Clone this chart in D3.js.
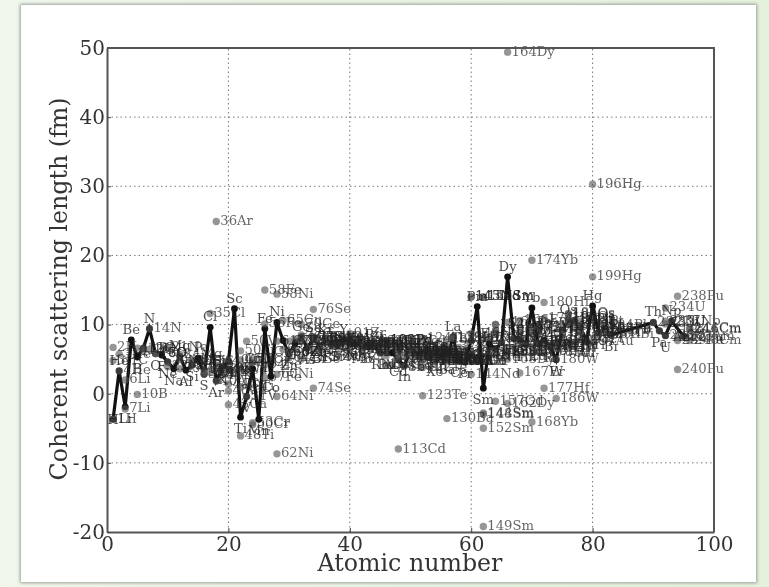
<!DOCTYPE html>
<html lang="en">
<head>
    <meta charset="UTF-8">
    <title>Coherent scattering length</title>
    <script src="https://d3js.org/d3.v7.min.js"></script>
    <style>
        html, body {
            margin: 0;
            padding: 0;
            overflow: hidden;
        }
        body {
            width: 769px;
            height: 587px;
            background: linear-gradient(to right, #f0f7ec, #e4f1dc);
            position: relative;
        }
        .card {
            position: absolute;
            left: 21px;
            top: 5px;
            width: 735px;
            height: 577px;
            background: #fff;
            box-shadow: 0 0 3px 1px #9a9e96;
        }
        svg {
            position: absolute;
            left: 0;
            top: 0;
            filter: blur(0.65px);
        }
        text {
            font-family: "DejaVu Serif", serif;
        }
    </style>
</head>
<body>
    <div class="card"></div>
    <div id="chart"></div>
    <script>
        // natural elements, the black line
        const elementNames = ["H","He","Li","Be","B","C","N","O","F","Ne","Na","Mg","Al","Si","P","S","Cl","Ar","K","Ca",
            "Sc","Ti","V","Cr","Mn","Fe","Co","Ni","Cu","Zn","Ga","Ge","As","Se","Br","Kr","Rb","Sr","Y","Zr",
            "Nb","Mo","Tc","Ru","Rh","Pd","Ag","Cd","In","Sn","Sb","Te","I","Xe","Cs","Ba","La","Ce","Pr","Nd",
            "Pm","Sm","Eu","Gd","Tb","Dy","Ho","Er","Tm","Yb","Lu","Hf","Ta","W","Re","Os","Ir","Pt","Au","Hg",
            "Tl","Pb","Bi","Th","Pa","U","Np","Am"];
        const elementNumbers = [1,2,3,4,5,6,7,8,9,10,11,12,13,14,15,16,17,18,19,20,
            21,22,23,24,25,26,27,28,29,30,31,32,33,34,35,36,37,38,39,40,
            41,42,43,44,45,46,47,48,49,50,51,52,53,54,55,56,57,58,59,60,
            61,62,63,64,65,66,67,68,69,70,71,72,73,74,75,76,77,78,79,80,
            81,82,83,90,91,92,93,95];
        const elementValues = [-3.7,3.3,-1.9,7.8,5.3,6.6,9.4,5.8,5.6,4.6,3.6,5.4,3.4,4.1,5.1,2.8,9.6,1.9,3.7,4.7,
            12.3,-3.4,-0.4,3.6,-3.7,9.4,2.5,10.3,7.7,5.7,7.3,8.2,6.6,8.0,6.8,7.8,7.1,7.0,7.8,7.2,
            7.1,6.7,6.8,7.0,5.9,5.9,5.9,4.9,4.1,6.2,5.6,5.8,5.3,4.9,5.4,5.1,8.2,4.8,4.6,7.7,
            12.6,0.8,7.2,6.5,7.4,16.9,8.0,7.8,7.1,12.4,7.2,7.7,6.9,4.9,9.2,10.7,10.6,9.6,7.6,12.7,
            8.8,9.4,8.5,10.3,9.1,8.4,10.5,8.3];

        // single isotopes, the grey points
        const isotopeNames = ["1H","2H","3H","3He","4He","6Li","7Li","10B","11B","12C","13C","14N","15N","16O","17O","18O",
            "20Ne","21Ne","22Ne","24Mg","25Mg","26Mg","28Si","29Si","30Si","32S","33S","34S","36S","35Cl","37Cl",
            "36Ar","38Ar","40Ar","39K","40K","41K","40Ca","42Ca","43Ca","44Ca","46Ca","48Ca",
            "46Ti","47Ti","48Ti","49Ti","50Ti","50V","51V","50Cr","52Cr","53Cr","54Cr",
            "54Fe","56Fe","57Fe","58Fe","58Ni","60Ni","61Ni","62Ni","64Ni","63Cu","65Cu",
            "64Zn","66Zn","67Zn","68Zn","70Zn","69Ga","71Ga","70Ge","72Ge","73Ge","74Ge","76Ge","75As",
            "74Se","76Se","77Se","78Se","80Se","82Se","79Br","81Br",
            "78Kr","80Kr","82Kr","83Kr","84Kr","86Kr","85Rb","87Rb",
            "84Sr","86Sr","87Sr","88Sr","89Y","90Zr","91Zr","92Zr","94Zr","96Zr","93Nb",
            "92Mo","94Mo","95Mo","96Mo","97Mo","98Mo","100Mo","99Tc","96Ru","99Ru","100Ru","102Ru","104Ru","103Rh",
            "102Pd","104Pd","105Pd","106Pd","108Pd","110Pd","107Ag","109Ag",
            "106Cd","108Cd","110Cd","111Cd","112Cd","113Cd","114Cd","116Cd","113In","115In",
            "112Sn","114Sn","115Sn","116Sn","117Sn","118Sn","119Sn","120Sn","122Sn","124Sn","121Sb","123Sb",
            "120Te","122Te","123Te","124Te","125Te","126Te","128Te","130Te","127I",
            "124Xe","126Xe","128Xe","129Xe","130Xe","131Xe","132Xe","134Xe","136Xe","133Cs",
            "130Ba","132Ba","134Ba","135Ba","136Ba","137Ba","138Ba","138La","139La",
            "136Ce","138Ce","140Ce","142Ce","141Pr","142Nd","143Nd","144Nd","145Nd","146Nd","148Nd","150Nd",
            "144Sm","147Sm","148Sm","149Sm","150Sm","152Sm","154Sm","151Eu","153Eu",
            "152Gd","154Gd","155Gd","156Gd","157Gd","158Gd","160Gd","159Tb",
            "156Dy","158Dy","160Dy","161Dy","162Dy","163Dy","164Dy","165Ho",
            "162Er","164Er","166Er","167Er","168Er","170Er","169Tm",
            "168Yb","170Yb","171Yb","172Yb","173Yb","174Yb","176Yb","175Lu","176Lu",
            "174Hf","176Hf","177Hf","178Hf","179Hf","180Hf","180Ta","181Ta",
            "180W","182W","183W","184W","186W","185Re","187Re",
            "184Os","186Os","187Os","188Os","189Os","190Os","192Os","191Ir","193Ir",
            "190Pt","192Pt","194Pt","195Pt","196Pt","198Pt","197Au","196Hg","199Hg",
            "203Tl","205Tl","204Pb","206Pb","207Pb","208Pb","209Bi",
            "232Th","231Pa","233U","234U","235U","238U","237Np","238Pu","239Pu","240Pu","242Pu","243Am","244Cm","246Cm","248Cm"];
        const isotopeValues = [-3.7,6.7,4.8,5.7,3.3,2.0,-2.2,-0.1,6.6,6.6,6.2,9.4,6.4,5.8,5.8,5.8,
            4.6,6.7,3.9,5.7,3.6,4.9,4.1,4.7,4.6,2.8,4.7,3.5,3.0,11.6,3.1,
            24.9,3.5,1.8,3.7,3.1,2.7,4.8,3.4,-1.6,1.4,3.6,0.4,
            4.9,3.6,-6.1,1.0,6.2,7.6,-0.4,-4.5,4.9,-4.2,4.5,
            4.2,10.1,2.3,15.0,14.4,2.8,7.6,-8.7,-0.4,6.4,10.6,
            5.2,6.0,7.6,6.0,6.0,7.9,6.4,10.0,8.5,5.0,7.6,8.2,6.6,
            0.8,12.2,8.2,8.2,7.5,6.3,6.8,6.8,
            7.8,7.6,7.9,7.4,8.0,8.1,7.0,7.2,
            7.0,5.7,7.4,7.2,7.8,6.4,8.7,7.4,8.2,5.5,7.1,
            6.9,6.8,6.9,6.2,7.3,6.6,6.8,6.8,6.9,7.2,7.1,7.5,7.3,5.9,
            7.7,7.7,5.5,6.4,4.1,7.7,7.6,4.2,
            5.0,5.4,5.9,6.5,6.4,-8.0,7.5,6.3,5.4,4.0,
            6.0,6.2,6.0,5.9,6.5,6.1,6.1,6.5,5.7,6.0,5.7,5.4,
            5.3,3.8,-0.3,8.0,5.0,5.6,5.9,6.0,5.3,
            5.0,5.2,4.7,5.6,4.9,4.8,5.1,4.6,4.9,5.4,
            -3.6,7.8,5.7,4.7,4.9,6.8,4.8,8.0,8.2,
            5.8,6.7,4.8,4.7,4.6,7.7,14.0,2.8,14.0,8.7,5.7,5.3,
            -2.8,14.0,-3.0,-19.2,14.0,-5.0,8.0,6.1,8.2,
            10.0,10.0,6.0,6.3,-1.1,9.0,9.2,7.4,
            6.1,6.0,6.7,10.3,-1.4,5.0,49.4,8.0,
            8.8,8.2,10.6,3.0,7.4,9.6,7.1,
            -4.1,6.8,9.7,9.4,9.6,19.3,8.7,7.3,6.1,
            10.9,6.6,0.8,5.9,7.5,13.2,7.0,6.9,
            5.0,7.0,6.5,7.5,-0.7,9.0,9.3,
            10.0,11.6,10.0,7.6,10.7,11.0,11.5,10.6,9.7,
            9.0,9.9,10.5,8.8,9.9,7.8,7.6,30.3,16.9,
            8.5,8.9,9.9,9.2,9.3,9.5,8.5,
            10.3,9.1,10.1,12.4,10.5,8.4,10.5,14.1,7.7,3.5,8.1,8.3,9.5,9.3,7.7];

        const xTicks = [0, 20, 40, 60, 80, 100];
        const yTicks = [-20, -10, 0, 10, 20, 30, 40, 50];

        const width = 769;
        const height = 587;
        const margin = { top: 48, right: 55, bottom: 55, left: 107 };

        const svg = d3.select("#chart")
            .append("svg")
            .attr("width", width)
            .attr("height", height);

        const xScale = d3.scaleLinear().domain([0, 100]).range([margin.left, width - margin.right]);
        const yScale = d3.scaleLinear().domain([-20, 50]).range([height - margin.bottom, margin.top]);

        const elements = elementNames.map((name, i) => ({ name: name, z: elementNumbers[i], b: elementValues[i] }));

        // the isotope's atomic number comes from its symbol
        const numberOf = new Map(elements.map(d => [d.name, d.z]));
        numberOf.set("Pu", 94);
        numberOf.set("Cm", 96);
        const isotopes = isotopeNames.map((name, i) => ({
            name: name,
            z: numberOf.get(name.replace(/\d+/, "")),
            b: isotopeValues[i]
        }));

        // dotted grid
        svg.append("g").selectAll("line")
            .data(xTicks.slice(1, -1))
            .enter()
            .append("line")
            .attr("x1", d => xScale(d))
            .attr("x2", d => xScale(d))
            .attr("y1", yScale.range()[0])
            .attr("y2", yScale.range()[1])
            .attr("stroke", "#777")
            .attr("stroke-width", 1)
            .attr("stroke-dasharray", "1.5,3");

        svg.append("g").selectAll("line")
            .data(yTicks.slice(1, -1))
            .enter()
            .append("line")
            .attr("x1", xScale.range()[0])
            .attr("x2", xScale.range()[1])
            .attr("y1", d => yScale(d))
            .attr("y2", d => yScale(d))
            .attr("stroke", "#777")
            .attr("stroke-width", 1)
            .attr("stroke-dasharray", "1.5,3");

        // black line and points go first, the labels lie on top of them
        const line = d3.line()
            .x(d => xScale(d.z))
            .y(d => yScale(d.b));

        svg.append("path")
            .datum(elements)
            .attr("d", line)
            .attr("fill", "none")
            .attr("stroke", "#111")
            .attr("stroke-width", 3.2)
            .attr("stroke-linejoin", "miter");

        svg.append("g").selectAll("circle")
            .data(elements)
            .enter()
            .append("circle")
            .attr("cx", d => xScale(d.z))
            .attr("cy", d => yScale(d.b))
            .attr("r", 3.4)
            .attr("fill", "#111");

        // isotopes
        svg.append("g").selectAll("circle")
            .data(isotopes)
            .enter()
            .append("circle")
            .attr("cx", d => xScale(d.z))
            .attr("cy", d => yScale(d.b))
            .attr("r", 3.7)
            .attr("fill", "#555")
            .attr("fill-opacity", 0.62);

        svg.append("g").selectAll("text")
            .data(isotopes)
            .enter()
            .append("text")
            .attr("x", d => xScale(d.z) + 4)
            .attr("y", d => yScale(d.b) + 3.5)
            .attr("font-size", 13.2)
            .attr("fill", "#222")
            .attr("fill-opacity", 0.7)
            .text(d => d.name);

        // element label above a local peak, below otherwise
        function labelShift(i) {
            if (i === 0) return 5;
            if (i === elements.length - 1) return 5;
            const isPeak = elements[i].b > elements[i - 1].b && elements[i].b > elements[i + 1].b;
            return isPeak ? -6 : 16;
        }

        svg.append("g").selectAll("text")
            .data(elements)
            .enter()
            .append("text")
            .attr("x", d => xScale(d.z))
            .attr("y", (d, i) => yScale(d.b) + labelShift(i))
            .attr("text-anchor", "middle")
            .attr("font-size", 13.2)
            .attr("fill", "#222")
            .attr("fill-opacity", 0.8)
            .text(d => d.name);

        // axes
        const xAxis = d3.axisBottom(xScale).tickValues(xTicks).tickFormat(d => String(d)).tickSizeInner(-4).tickSizeOuter(0).tickPadding(5);
        const yAxis = d3.axisLeft(yScale).tickValues(yTicks).tickFormat(d => String(d)).tickSizeInner(-4).tickSizeOuter(0).tickPadding(2);

        const xGroup = svg.append("g")
            .attr("transform", `translate(0,${yScale.range()[0]})`)
            .call(xAxis);
        const yGroup = svg.append("g")
            .attr("transform", `translate(${xScale.range()[0]},0)`)
            .call(yAxis);

        [xGroup, yGroup].forEach(g => {
            g.selectAll("text")
                .attr("font-size", 20)
                .attr("fill", "#333");
            g.selectAll("line").attr("stroke", "#444");
            g.select(".domain").attr("stroke", "#555").attr("stroke-width", 2);
        });

        // top and right of the frame
        svg.append("path")
            .attr("d", d3.line()([
                [xScale.range()[0], yScale.range()[1]],
                [xScale.range()[1], yScale.range()[1]],
                [xScale.range()[1], yScale.range()[0]]
            ]))
            .attr("fill", "none")
            .attr("stroke", "#555")
            .attr("stroke-width", 2);

        svg.append("text")
            .attr("x", 410)
            .attr("y", 571)
            .attr("text-anchor", "middle")
            .attr("font-size", 23.7)
            .attr("fill", "#333")
            .text("Atomic number");

        svg.append("text")
            .attr("transform", "translate(67,289) rotate(-90)")
            .attr("text-anchor", "middle")
            .attr("font-size", 23.7)
            .attr("fill", "#333")
            .text("Coherent scattering length (fm)");
    </script>
</body>
</html>
